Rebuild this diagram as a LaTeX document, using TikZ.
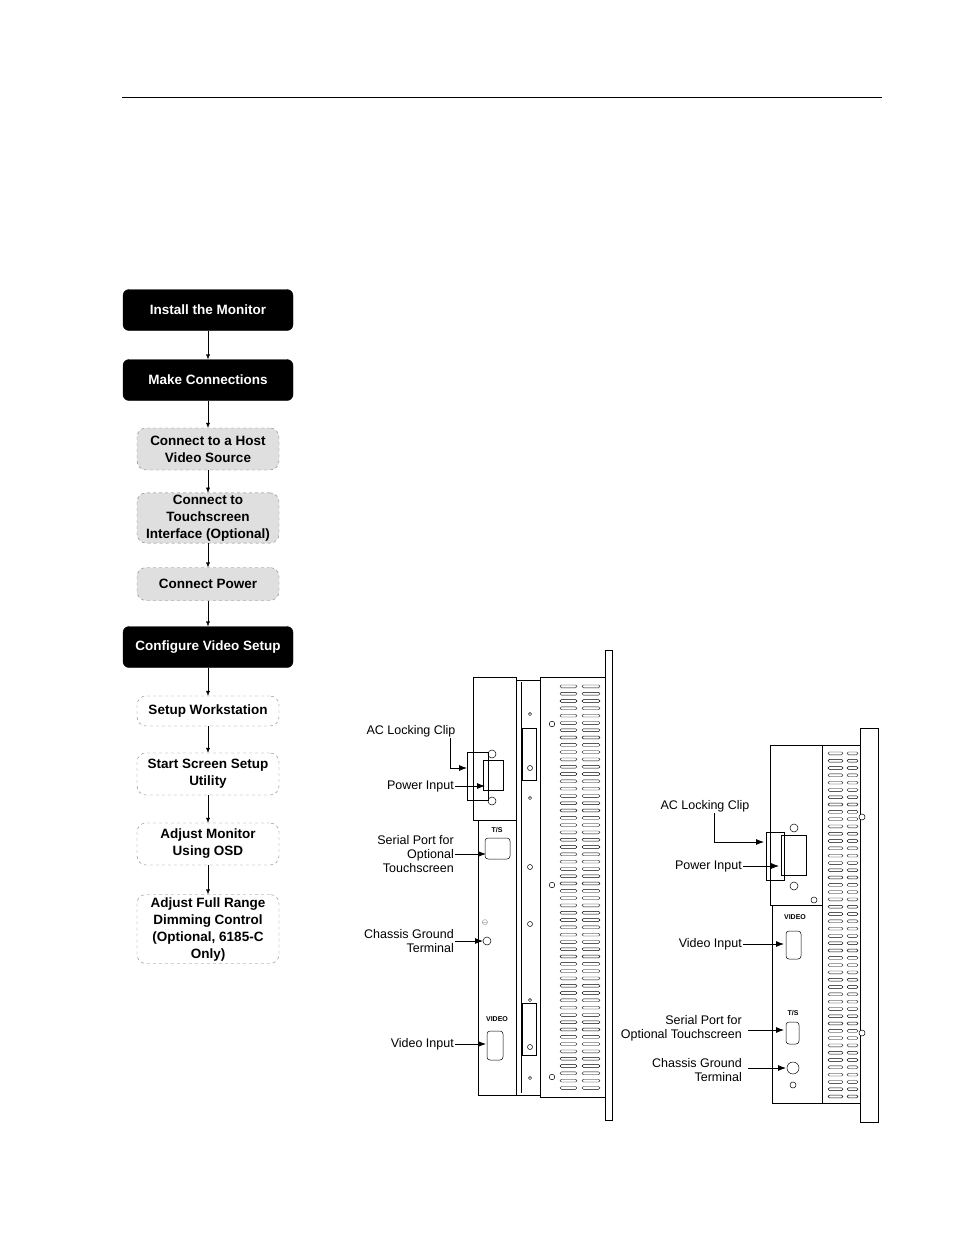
\documentclass[tikz,border=0pt]{standalone}
\usepackage{fontspec}
\setmainfont{Liberation Sans}
\usetikzlibrary{positioning,arrows.meta}
\tikzstyle{mainstep} = [draw, fill=black, text=white, rounded corners=6pt, minimum width=170pt, minimum height=41pt, align=center, font=\fontsize{13.5}{17}\selectfont\bfseries]
\tikzstyle{substep} = [draw=gray, dashed, fill=gray!25, rounded corners=9pt, minimum width=142pt, align=center, inner sep=2pt, font=\fontsize{13.5}{17}\selectfont\bfseries]
\tikzstyle{optstep} = [substep, fill=white]
\tikzstyle{flow} = [-{Latex[length=5pt,width=4pt]}, thin]
\tikzstyle{lbl} = [font=\fontsize{12.5}{14}\selectfont, inner sep=1pt, align=right]
\tikzstyle{callout} = [-{Latex[length=8pt,width=6pt]}, thick]
\tikzstyle{part} = [draw, line width=0.5pt]
\tikzstyle{slot} = [draw, line width=0.4pt, rounded corners=1.4pt]
\tikzstyle{screw} = [draw, line width=0.5pt, fill=white]
\begin{document}
\begin{tikzpicture}[x=1pt,y=-1pt]
\useasboundingbox (0,0) rectangle (954,1235);
\draw[line width=0.7pt] (122,97) -- (882,97);

% flowchart
\node[mainstep] (install) at (208,310) {Install the Monitor};
\node[mainstep] (connect) at (208,380) {Make Connections};
\node[substep, minimum height=42pt] (host) at (208,449) {Connect to a Host\\Video Source};
\node[substep, minimum height=50pt] (touch) at (208,518) {Connect to\\Touchscreen\\Interface (Optional)};
\node[substep, minimum height=33pt] (power) at (208,584) {Connect Power};
\node[mainstep] (config) at (208,647) {Configure Video Setup};
\node[optstep, minimum height=30pt] (work) at (208,711) {Setup Workstation};
\node[optstep, minimum height=42pt] (utility) at (208,774) {Start Screen Setup\\Utility};
\node[optstep, minimum height=42pt] (osd) at (208,844) {Adjust Monitor\\Using OSD};
\node[optstep, minimum height=69pt] (dim) at (208,929) {Adjust Full Range\\Dimming Control\\(Optional, 6185-C\\Only)};
\foreach \a/\b in {install/connect, connect/host, host/touch, touch/power, power/config, config/work, work/utility, utility/osd, osd/dim}
  \draw[flow] (\a) -- (\b);

% left monitor
\draw[part] (473,677) rectangle (516,820);
\draw[part] (478,820) -- (478,1095) -- (516,1095) -- (516,820);
\draw[part] (516,680) rectangle (540,1095);
\draw[part] (521,682) -- (521,1093);
\draw[part] (540,677) rectangle (605,1097);
\draw[part] (605,650) rectangle (612,1120);
\foreach \y in {685,692.3,...,1090} {
  \draw[slot] (560,\y) rectangle (577,\y+2.8);
  \draw[slot] (582,\y) rectangle (600,\y+2.8);
}
\draw[part] (522,728) rectangle (536,780);
\draw[part] (522,1003) rectangle (536,1055);
\draw[part, fill=white] (483,760) rectangle (503,790);
\draw[part] (467,752) rectangle (488,800);
\draw[part] (492,754) circle (4) (492,801) circle (4);
\draw[part, rounded corners=3pt] (485,838) rectangle (510,859);
\node[font=\scriptsize\bfseries] (lts) at (497,830) {T/S};
\draw[part] (487,941) circle (4);
\node[font=\scriptsize] (lgnd) at (485,923) {$\ominus$};
\node[font=\scriptsize\bfseries] (lvideo) at (497,1019) {VIDEO};
\draw[part, rounded corners=3pt] (487,1031) rectangle (503,1060);
\foreach \y in {714,798,1000,1078} \draw[part] (530,\y) circle (1.6);
\foreach \y in {768,867,924,1047} \draw[screw] (530,\y) circle (2.5);
\foreach \y in {724,885,1077} \draw[screw] (552,\y) circle (2.8);

\node[lbl] (lclip) at (411,731) {AC Locking Clip};
\coordinate (lclipc) at (467,768);
\draw[callout] (lclip.south east) ++(-6,0) |- (lclipc);
\node[lbl, anchor=east] (lpower) at (455,786) {Power Input};
\coordinate (lpowerc) at (485,786);
\draw[callout] (lpower) -- (lpowerc);
\node[lbl, anchor=east] (lserial) at (455,854) {Serial Port for\\Optional\\Touchscreen};
\coordinate (lserialc) at (486,854);
\draw[callout] (lserial) -- (lserialc);
\node[lbl, anchor=east] (lground) at (455,941) {Chassis Ground\\Terminal};
\coordinate (lgroundc) at (483,941);
\draw[callout] (lground) -- (lgroundc);
\node[lbl, anchor=east] (lvin) at (455,1044) {Video Input};
\coordinate (lvinc) at (486,1044);
\draw[callout] (lvin) -- (lvinc);

% right monitor
\draw[part] (770,745) rectangle (822,905);
\draw[part] (772,905) -- (772,1103) -- (822,1103) -- (822,905);
\draw[part] (822,745) rectangle (860,1103);
\draw[part] (860,728) rectangle (878,1122);
\foreach \y in {752,759.3,...,1100} {
  \draw[slot] (828,\y) rectangle (843,\y+2.8);
  \draw[slot] (847,\y) rectangle (858,\y+2.8);
}
\draw[part, fill=white] (781,835) rectangle (806,875);
\draw[part] (766,832) rectangle (784,880);
\draw[part] (794,828) circle (4) (794,886) circle (4);
\draw[part] (814,900) circle (3);
\node[font=\scriptsize\bfseries] (rvideo) at (795,917) {VIDEO};
\draw[part, rounded corners=3pt] (786,931) rectangle (801,959);
\node[font=\scriptsize\bfseries] (rts) at (793,1013) {T/S};
\draw[part, rounded corners=3pt] (786,1022) rectangle (799,1044);
\draw[part] (793,1068) circle (6);
\draw[part] (793,1085) circle (3);
\foreach \y in {817,1033} \draw[screw] (862,\y) circle (3);

\node[lbl] (rclip) at (705,806) {AC Locking Clip};
\coordinate (rclipc) at (764,842);
\draw[callout] (rclip.south east) ++(-36,0) |- (rclipc);
\node[lbl, anchor=east] (rpower) at (743,866) {Power Input};
\coordinate (rpowerc) at (779,866);
\draw[callout] (rpower) -- (rpowerc);
\node[lbl, anchor=east] (rvin) at (743,944) {Video Input};
\coordinate (rvinc) at (784,944);
\draw[callout] (rvin) -- (rvinc);
\node[lbl, anchor=east] (rserial) at (743,1028) {Serial Port for\\Optional Touchscreen};
\coordinate (rserialc) at (784,1030);
\draw[callout] (rserial.east) ++(5,2) -- (rserialc);
\node[lbl, anchor=east] (rground) at (743,1070) {Chassis Ground\\Terminal};
\coordinate (rgroundc) at (786,1068);
\draw[callout] (rground.east) ++(5,-2) -- (rgroundc);
\end{tikzpicture}
\end{document}
